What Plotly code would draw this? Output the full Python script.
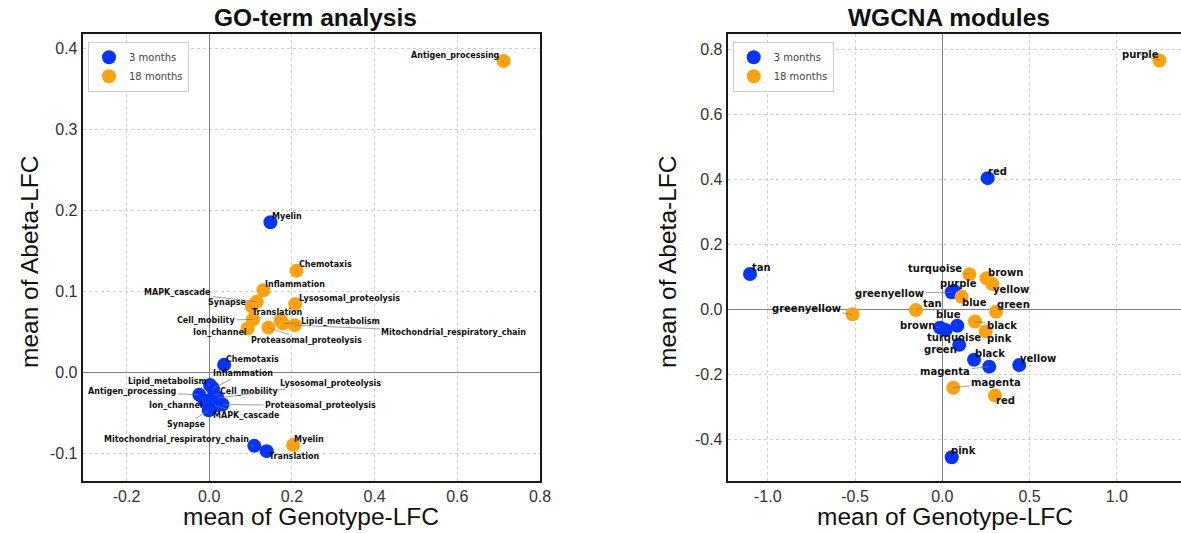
import plotly.graph_objects as go

# ---------------- data: GO-term analysis ----------------
go_terms_3m = ["Myelin", "Chemotaxis", "Inflammation", "Lipid_metabolism", "Antigen_processing",
               "Cell_mobility", "Lysosomal_proteolysis", "Ion_channel", "Proteasomal_proteolysis",
               "MAPK_cascade", "Synapse", "Mitochondrial_respiratory_chain", "Translation"]
go_x_3m = [0.148, 0.036, 0.009, 0.002, -0.024, 0.012, 0.020, -0.012, 0.032, 0.014, -0.001, 0.109, 0.139]
go_y_3m = [0.185, 0.009, -0.020, -0.016, -0.028, -0.028, -0.032, -0.035, -0.040, -0.041, -0.047, -0.091, -0.0975]

go_terms_18m = ["Antigen_processing", "Myelin", "Chemotaxis", "Inflammation", "MAPK_cascade", "Synapse",
                "Lysosomal_proteolysis", "Translation", "Cell_mobility", "Lipid_metabolism", "Ion_channel",
                "Mitochondrial_respiratory_chain", "Proteasomal_proteolysis"]
go_x_18m = [0.712, 0.203, 0.211, 0.131, 0.115, 0.103, 0.208, 0.173, 0.106, 0.178, 0.093, 0.207, 0.143]
go_y_18m = [0.384, -0.090, 0.125, 0.101, 0.087, 0.081, 0.084, 0.064, 0.065, 0.060, 0.054, 0.058, 0.055]

# ---------------- data: WGCNA modules ----------------
mod_3m = ["tan", "red", "greenyellow", "purple", "blue", "brown", "turquoise", "green", "black",
          "magenta", "yellow", "pink"]
mod_x_3m = [-1.102, 0.260, 0.054, 0.067, 0.086, -0.013, 0.019, 0.097, 0.182, 0.269, 0.441, 0.054]
mod_y_3m = [0.109, 0.404, 0.053, 0.057, -0.050, -0.056, -0.063, -0.109, -0.155, -0.176, -0.171, -0.455]

mod_18m = ["purple", "turquoise", "brown", "yellow", "blue", "greenyellow", "tan", "green", "black",
           "pink", "magenta", "red"]
mod_x_18m = [1.244, 0.155, 0.254, 0.287, 0.111, -0.514, -0.151, 0.308, 0.187, 0.249, 0.063, 0.302]
mod_y_18m = [0.766, 0.108, 0.096, 0.078, 0.039, -0.015, -0.002, -0.007, -0.037, -0.068, -0.241, -0.265]

# ticks
go_xticks = [-0.2, 0.0, 0.2, 0.4, 0.6, 0.8]
go_xticktext = ["-0.2", "0.0", "0.2", "0.4", "0.6", "0.8"]
go_yticks = [-0.1, 0.0, 0.1, 0.2, 0.3, 0.4]
go_yticktext = ["-0.1", "0.0", "0.1", "0.2", "0.3", "0.4"]
mod_xticks = [-1.0, -0.5, 0.0, 0.5, 1.0, 1.5]
mod_xticktext = ["-1.0", "-0.5", "0.0", "0.5", "1.0", "1.5"]
mod_yticks = [-0.4, -0.2, 0.0, 0.2, 0.4, 0.6, 0.8]
mod_yticktext = ["-0.4", "-0.2", "0.0", "0.2", "0.4", "0.6", "0.8"]

series_names = ["3 months", "18 months"]

# ---------------- label offsets (pixels, text centre relative to point) ----------------
go_off_3m = [(17, -6), (28, -5), (30, -15), (-43, -4), (-67, -3), (35, -3), (113, -15), (-28, 5),
             (98, 1), (31, 10), (-22, 14), (-78, -6), (28, 5)]
go_off_18m = [(-48, -6), (16, -6), (29, -6), (32, -6), (-79, -9), (-24, -4), (54, -6), (-3, -8),
              (-47, 1), (58, -2), (-28, 4), (159, 7), (38, 13)]
mod_off_3m = [(11, -7), (10, -7), (-62, 1), (5, -7), (-9, -11), (-23, -2), (8, 8), (-19, 5),
              (16, -6), (-44, 5), (19, -7), (12, -7)]
mod_off_18m = [(-19, -6), (-34, -6), (19, -6), (19, 5), (13, 6), (-46, -6), (17, -7), (17, -7),
               (27, 4), (14, 7), (43, -5), (11, 5)]

BLUE = "#0533ff"
ORANGE = "#ffa20f"
W, H = 1181, 533

fig = go.Figure()

def add_pair(xs3, ys3, xs18, ys18, xa, ya, legend):
    fig.add_trace(go.Scatter(x=xs3, y=ys3, mode="markers", name=series_names[0],
                             marker=dict(color=BLUE, size=14), xaxis=xa, yaxis=ya, legend=legend))
    fig.add_trace(go.Scatter(x=xs18, y=ys18, mode="markers", name=series_names[1],
                             marker=dict(color=ORANGE, size=14), xaxis=xa, yaxis=ya, legend=legend))

add_pair(go_x_3m, go_y_3m, go_x_18m, go_y_18m, "x", "y", "legend")
add_pair(mod_x_3m, mod_y_3m, mod_x_18m, mod_y_18m, "x2", "y2", "legend2")

annotations = []

def add_labels(names, xs, ys, offs, xr, yr, size):
    for n, x, y, (dx, dy) in zip(names, xs, ys, offs):
        annotations.append(dict(x=x, y=y, xref=xr, yref=yr, text=n, showarrow=True,
                                ax=dx, ay=dy, arrowhead=0, arrowwidth=0.7, arrowcolor="#777",
                                standoff=0, startstandoff=0,
                                font=dict(family="DejaVu Sans", size=size, color="#111", weight="bold")))

add_labels(go_terms_3m, go_x_3m, go_y_3m, go_off_3m, "x", "y", 8)
add_labels(go_terms_18m, go_x_18m, go_y_18m, go_off_18m, "x", "y", 8)
add_labels(mod_3m, mod_x_3m, mod_y_3m, mod_off_3m, "x2", "y2", 10)
add_labels(mod_18m, mod_x_18m, mod_y_18m, mod_off_18m, "x2", "y2", 10)

# titles and axis titles (paper coords)
def txt(x, y, s, size, bold=False, angle=0):
    annotations.append(dict(x=x / W, y=1 - y / H, xref="paper", yref="paper", text=s, showarrow=False,
                            textangle=angle, xanchor="center", yanchor="middle",
                            font=dict(family="Liberation Sans, Arial", size=size, color="#111",
                                      weight="bold" if bold else "normal")))

txt(315, 17, "GO-term analysis", 24.5, bold=True)
txt(949, 17, "WGCNA modules", 24.5, bold=True)
txt(311, 516, "mean of Genotype-LFC", 24.5)
txt(945, 516, "mean of Genotype-LFC", 24.5)
txt(29, 262, "mean of Abeta-LFC", 24.5, angle=-90)
txt(667, 262, "mean of Abeta-LFC", 24.5, angle=-90)

y_dom = [1 - 480.7 / H, 1 - 33.5 / H]

axis_common = dict(showgrid=True, gridcolor="#cfcfcf", griddash="dot", gridwidth=1,
                   zeroline=True, zerolinecolor="#808080", zerolinewidth=1.2,
                   showline=True, linecolor="#1a1a1a", linewidth=2, automargin=False,
                   ticks="", tickfont=dict(family="Liberation Sans, Arial", size=16, color="#333"),
                   fixedrange=True)

legend_common = dict(xanchor="left", yanchor="top", bgcolor="white", bordercolor="#cccccc",
                     borderwidth=1, font=dict(family="DejaVu Sans", size=10, color="#444"),
                     itemwidth=30, tracegroupgap=0)

fig.update_layout(
    width=W, height=H,
    margin=dict(l=0, r=0, t=0, b=0, autoexpand=False),
    paper_bgcolor="white", plot_bgcolor="white",
    xaxis=dict(domain=[82.7 / W, 540 / W], range=[-0.306, 0.8], anchor="y",
               tickvals=go_xticks, ticktext=go_xticktext, mirror=True, **axis_common),
    yaxis=dict(domain=y_dom, range=[-0.134, 0.418], anchor="x",
               tickvals=go_yticks, ticktext=go_yticktext, mirror=True, **axis_common),
    xaxis2=dict(domain=[727.7 / W, 1.0], range=[-1.2298, 1.368], anchor="y2",
                tickvals=mod_xticks, ticktext=mod_xticktext, mirror=True, **axis_common),
    yaxis2=dict(domain=y_dom, range=[-0.527, 0.849], anchor="x2",
                tickvals=mod_yticks, ticktext=mod_yticktext, mirror=False, **axis_common),
    legend=dict(x=88 / W, y=1 - 41.7 / H, **legend_common),
    legend2=dict(x=732.7 / W, y=1 - 41.7 / H, **legend_common),
    annotations=annotations,
    showlegend=True,
)

fig.write_html("out.html", config={"displayModeBar": False},
               post_script="document.body.style.margin='0';document.body.style.padding='0';")
